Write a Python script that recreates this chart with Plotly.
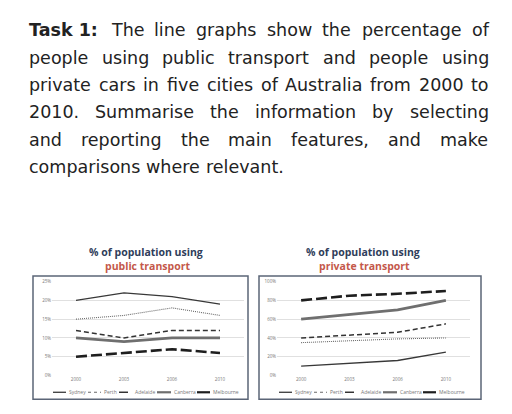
import plotly.graph_objects as go

W, H = 512, 414
def px(x): return x / W
def py(y): return 1 - y / H

# ---------------- data ----------------
years = ["2000", "2003", "2006", "2010"]
cities = ["Sydney", "Perth", "Adelaide", "Canberra", "Melbourne"]

public_sydney = [20, 22, 21, 19]
public_perth = [15, 16, 18, 16]
public_adelaide = [12, 10, 12, 12]
public_canberra = [10, 9, 10, 10]
public_melbourne = [5, 6, 7, 6]

private_sydney = [10, 13, 16, 25]
private_perth = [35, 37, 39, 40]
private_adelaide = [40, 43, 46, 55]
private_canberra = [60, 65, 70, 80]
private_melbourne = [80, 85, 87, 90]

public_ticks = [0, 5, 10, 15, 20, 25]
private_ticks = [0, 20, 40, 60, 80, 100]

paragraph_lines = [
    "Task 1: The line graphs show the percentage of",
    "people using public transport and people using",
    "private cars in five cities of Australia from 2000 to",
    "2010. Summarise the information by selecting",
    "and reporting the main features, and make",
    "comparisons where relevant.",
]

styles = {
    "Sydney": dict(color="#383838", width=1.3, dash="solid"),
    "Perth": dict(color="#6a6a6a", width=1.1, dash="1px,1px"),
    "Adelaide": dict(color="#333333", width=1.5, dash="5px,3px"),
    "Canberra": dict(color="#6f6f6f", width=2.8, dash="solid"),
    "Melbourne": dict(color="#1e1e1e", width=2.6, dash="11px,4px"),
}

fig = go.Figure()
public = [public_sydney, public_perth, public_adelaide, public_canberra, public_melbourne]
private = [private_sydney, private_perth, private_adelaide, private_canberra, private_melbourne]
for name, vals in zip(cities, public):
    fig.add_trace(go.Scatter(x=years, y=vals, mode="lines", name=name, line=styles[name],
                             xaxis="x", yaxis="y", showlegend=False))
for name, vals in zip(cities, private):
    fig.add_trace(go.Scatter(x=years, y=vals, mode="lines", name=name, line=styles[name],
                             xaxis="x2", yaxis="y2", showlegend=False))

tickfont = dict(family="Open Sans", size=4.5, color="#777777")
ydom = [py(378), py(282.7)]
axis_common = dict(showline=False, zeroline=False, ticks="")
fig.update_layout(
    width=W, height=H, margin=dict(l=0, r=0, t=0, b=0),
    paper_bgcolor="white", plot_bgcolor="white",
    xaxis=dict(domain=[px(52), px(244)], type="category", range=[-0.5, 3.5], showgrid=False,
               tickfont=tickfont, anchor="y", **axis_common),
    yaxis=dict(domain=ydom, range=[0, 25], tickvals=public_ticks,
               ticktext=[f"{t}%" for t in public_ticks], showgrid=True, gridcolor="#e0e0e0",
               gridwidth=0.8, tickfont=tickfont, anchor="x", **axis_common),
    xaxis2=dict(domain=[px(277), px(470)], type="category", range=[-0.5, 3.5], showgrid=False,
                tickfont=tickfont, anchor="y2", **axis_common),
    yaxis2=dict(domain=ydom, range=[0, 100], tickvals=private_ticks,
                ticktext=[f"{t}%" for t in private_ticks], showgrid=True, gridcolor="#e0e0e0",
                gridwidth=0.8, tickfont=tickfont, anchor="x2", **axis_common),
)

shapes = []
ann = []
# chart boxes
for x0, x1 in [(33, 248), (259, 481)]:
    shapes.append(dict(type="rect", xref="paper", yref="paper", x0=px(x0), x1=px(x1),
                       y0=py(402), y1=py(277), line=dict(color="#5b6577", width=1.5)))

# manual legends
leg_items = [  # line start, line end, text start
    ("Sydney", 53, 66, 66.5),
    ("Perth", 88, 101, 101.5),
    ("Adelaide", 119, 131, 133),
    ("Canberra", 157, 171, 171.5),
    ("Melbourne", 197, 210, 210.5),
]
for shift in [0, 226]:
    for name, l0, l1, t0 in leg_items:
        st = styles[name]
        shapes.append(dict(type="line", xref="paper", yref="paper", x0=px(l0 + shift), x1=px(l1 + shift),
                           y0=py(395), y1=py(395),
                           line=dict(color=st["color"], width=min(st["width"], 2.2),
                                     dash="dot" if name == "Perth" else ("dash" if name == "Adelaide" else "solid"))))
        ann.append(dict(text=name, x=px(t0 + shift), y=py(395), xref="paper", yref="paper",
                        xanchor="left", yanchor="middle", showarrow=False,
                        font=dict(family="Open Sans", size=5, color="#777777")))

# chart titles
title_font = dict(family="Open Sans", size=10.5, color="#2f3d5a")
red_font = dict(family="Open Sans", size=10.5, color="#c4584a")
for cx, sub in [(146, "public transport"), (363, "private transport")]:
    ann.append(dict(text="<b>% of population using</b>", x=px(cx), y=py(252.5), xref="paper", yref="paper",
                    xanchor="center", yanchor="middle", showarrow=False, font=title_font))
    ann.append(dict(text=f"<b>{sub}</b>", x=px(cx + 1), y=py(267), xref="paper", yref="paper",
                    xanchor="center", yanchor="middle", showarrow=False, font=red_font))

# ---- paragraph: justified text, laid out word by word with DejaVu Sans metrics ----
REG = {" ": .318, "a": .613, "b": .635, "c": .550, "d": .635, "e": .615, "f": .352, "g": .635,
       "h": .634, "i": .278, "j": .278, "k": .579, "l": .278, "m": .974, "n": .634, "o": .612,
       "p": .635, "q": .635, "r": .411, "s": .521, "t": .392, "u": .634, "v": .592, "w": .818,
       "x": .592, "y": .592, "z": .525, "A": .684, "S": .635, "T": .611, ".": .318, ",": .318,
       ":": .337}
BOLD = {"T": .682, "a": .675, "s": .595, "k": .665, " ": .348, "1": .696, ":": .400}
FS = 17.5
def wwidth(word, bold=False):
    tab = BOLD if bold else REG
    return sum(tab.get(ch, .636) for ch in word) * FS

LEFT, RIGHT = 27, 487
line_y = [27.5, 55.5, 83.5, 111, 139, 166.5]
para_font = dict(family="DejaVu Sans", size=FS, color="#222222")
for li, (text, y) in enumerate(zip(paragraph_lines, line_y)):
    words = text.split(" ")
    items = []
    if li == 0:
        items.append(("<b>Task 1:</b>", wwidth("Task 1:", True)))
        words = words[2:]
    items += [(w, wwidth(w)) for w in words]
    total = sum(w for _, w in items)
    last = li == len(paragraph_lines) - 1
    gap = REG[" "] * FS if last else (RIGHT - LEFT - total) / (len(items) - 1)
    x = LEFT
    for w, wd in items:
        ann.append(dict(text=w, x=px(x), y=py(y), xref="paper", yref="paper",
                        xanchor="left", yanchor="middle", showarrow=False, font=para_font))
        x += wd + gap

fig.update_layout(shapes=shapes, annotations=ann)
fig.write_html("out.html", config={"displayModeBar": False},
               post_script="document.body.style.margin='0';document.body.style.overflow='hidden';")
